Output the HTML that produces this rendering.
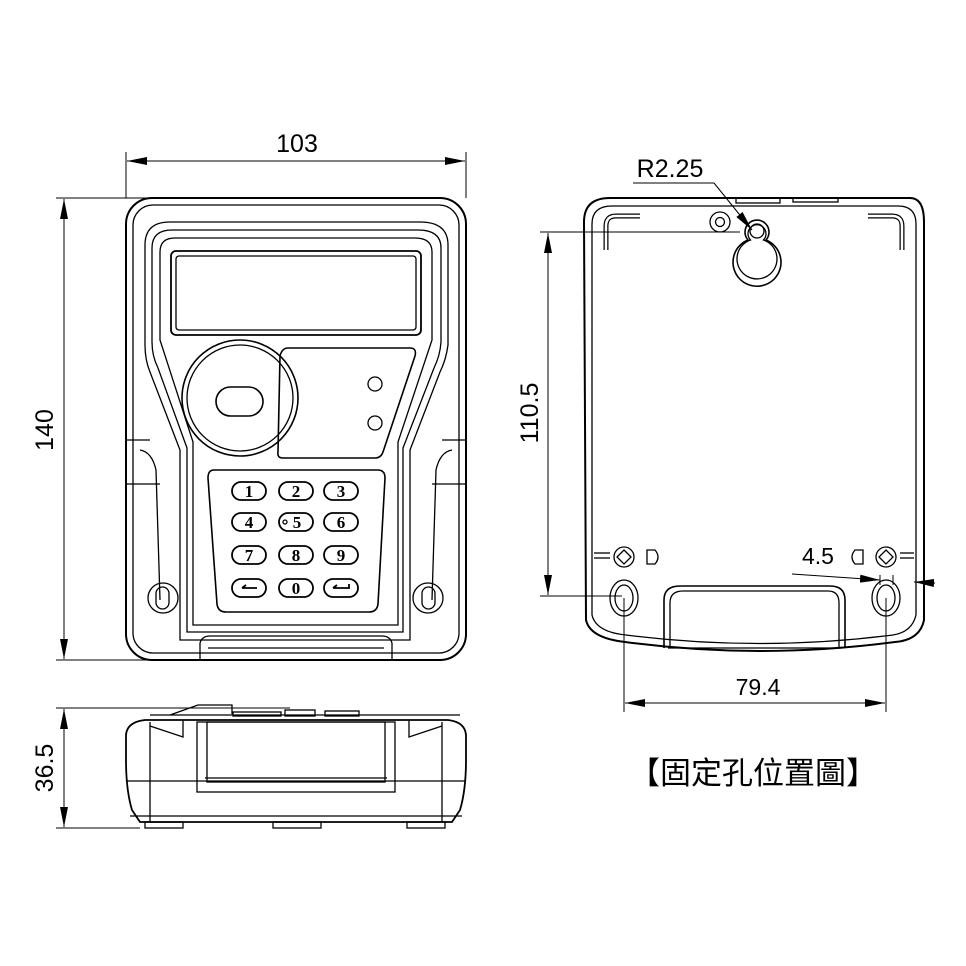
<!DOCTYPE html>
<html><head><meta charset="utf-8"><style>
html,body{margin:0;padding:0;background:#fff;}
svg{display:block;}
text{font-family:"Liberation Sans",sans-serif;fill:#000;}
</style></head><body>
<svg width="966" height="966" viewBox="0 0 966 966" xmlns="http://www.w3.org/2000/svg">
<defs>
<marker id="a" viewBox="0 0 20 8" refX="20" refY="4" markerWidth="20" markerHeight="8" markerUnits="userSpaceOnUse" orient="auto-start-reverse"><path d="M0,0 L20,4 L0,8 z" fill="#000"/></marker>
</defs>
<g fill="none" stroke="#000" stroke-width="1.3">
<line x1="126" y1="152" x2="126" y2="198" stroke-width="1"/>
<line x1="466" y1="152" x2="466" y2="198" stroke-width="1"/>
<line x1="127" y1="161" x2="465" y2="161" stroke-width="1" marker-start="url(#a)" marker-end="url(#a)"/>
<line x1="56" y1="198" x2="160" y2="198" stroke-width="1"/>
<line x1="56" y1="660" x2="200" y2="660" stroke-width="1"/>
<line x1="64" y1="199" x2="64" y2="659" stroke-width="1" marker-start="url(#a)" marker-end="url(#a)"/>

<rect x="126" y="198" width="340" height="462" rx="26" stroke-width="2"/>
<rect x="133" y="205" width="326" height="448" rx="20"/>
<path d="M145,245 Q145,222 170,222 L420,222 Q448,222 448,245 L448,345 Q446,360 440,372 L410,450 L410,640 L180,640 L180,450 L150,372 Q145,360 145,345 Z"/>
<path d="M152,248 Q152,230 172,230 L418,230 Q441,230 441,248 L441,342 Q440,356 434,368 L403,448 L403,632 L187,632 L187,448 L158,368 Q152,356 152,342 Z"/>
<path d="M160,252 Q160,238 175,238 L415,238 Q432,238 432,252 L432,340 L398,442 L398,625 L193,625 L193,442 L160,340 Z"/>
<line x1="126" y1="440" x2="150" y2="440"/><line x1="442" y1="440" x2="466" y2="440"/>
<line x1="126" y1="484" x2="160" y2="484"/><line x1="432" y1="484" x2="466" y2="484"/>
<path d="M140,450 Q152,452 156,470 L160,600"/>
<path d="M452,450 Q440,452 436,470 L432,600"/>
<rect x="171" y="251" width="250" height="84" rx="5" stroke-width="1.8"/>
<rect x="176" y="256" width="240" height="74" rx="3"/>
<circle cx="240" cy="398" r="58" stroke-width="1.6"/>
<circle cx="240" cy="398" r="53"/>
<rect x="216" y="387" width="47" height="29" rx="14.5" stroke-width="1.6"/>
<path d="M288,348 L410,348 Q417,348 415,356 L383,452 Q381,458 375,458 L283,458 Q277,458 278,452 L280,356 Q282,348 288,348 Z" stroke-width="1.6"/>
<circle cx="375" cy="384" r="7"/><circle cx="375" cy="423" r="7"/>
<path d="M214,470 L378,470 Q385,470 385,478 L378,604 Q377,612 369,612 L226,612 Q218,612 217,604 L208,478 Q208,470 214,470 Z" stroke-width="1.6"/>
<g stroke-width="1.8">
<rect x="232" y="482" width="34" height="18" rx="9"/><rect x="279" y="482" width="34" height="18" rx="9"/><rect x="324" y="482" width="34" height="18" rx="9"/>
<rect x="232" y="513" width="34" height="18" rx="9"/><rect x="279" y="513" width="34" height="18" rx="9"/><rect x="324" y="513" width="34" height="18" rx="9"/>
<rect x="232" y="546" width="34" height="18" rx="9"/><rect x="279" y="546" width="34" height="18" rx="9"/><rect x="324" y="546" width="34" height="18" rx="9"/>
<rect x="232" y="579" width="34" height="18" rx="9"/><rect x="279" y="579" width="34" height="18" rx="9"/><rect x="324" y="579" width="34" height="18" rx="9"/>
</g>
<circle cx="285" cy="522" r="2"/>
<path d="M242,588 L257,588 M242,588 l4,-3" stroke-width="1.8"/><path d="M333,588 L349,588 L349,584 M333,588 l4,-3" stroke-width="1.8"/>
<circle cx="163" cy="598" r="15"/><rect x="156" y="587" width="13" height="22" rx="6.5"/>
<circle cx="428" cy="598" r="15"/><rect x="422" y="587" width="13" height="22" rx="6.5"/>
<path d="M200,660 L200,643 Q202,636 210,636 L382,636 Q390,636 392,643 L392,660"/>
<path d="M208,648 L384,648"/>

<line x1="56" y1="708" x2="290" y2="708" stroke-width="1"/>
<line x1="56" y1="828" x2="140" y2="828" stroke-width="1"/>
<line x1="64" y1="709" x2="64" y2="827" stroke-width="1" marker-start="url(#a)" marker-end="url(#a)"/>
<path d="M140,822 L132,810 Q126,790 126,760 L126,735 Q127,722 145,720 L448,720 Q465,722 466,735 L466,760 Q466,790 460,810 L452,822 Z" stroke-width="1.8"/>
<line x1="126" y1="781" x2="466" y2="781"/>
<line x1="130" y1="816" x2="462" y2="816"/>
<line x1="150" y1="722" x2="150" y2="822"/><line x1="442" y1="722" x2="442" y2="822"/>
<rect x="197" y="722" width="198" height="70"/>
<rect x="207" y="722" width="178" height="60"/>
<line x1="205" y1="778" x2="387" y2="778"/>
<path d="M150,726 L183,737 L183,720 M442,726 L409,737 L409,720"/>
<path d="M150,715 L460,715 M170,715 L198,705 L232,705 L232,714"/>
<rect x="233" y="712" width="48" height="4"/><rect x="285" y="710" width="30" height="6"/><rect x="325" y="711" width="34" height="5"/>
<rect x="145" y="822" width="38" height="6"/><rect x="273" y="822" width="48" height="6"/><rect x="407" y="822" width="38" height="6"/>

<path d="M610,198 L910,198 Q924,198 924,222 L924,620 Q920,640 895,642 Q760,660 625,642 Q590,638 586,620 L584,222 Q584,198 610,198 Z" stroke-width="2"/>
<path d="M612,206 L898,206 Q916,206 916,224 L916,615 Q912,632 893,635 Q760,652 626,635 Q596,632 592,615 L592,224 Q592,206 612,206 Z"/>
<rect x="736" y="198" width="44" height="5"/><rect x="793" y="198" width="45" height="4"/>
<path d="M606,250 L606,226 Q606,216 616,216 L640,216" stroke-width="5"/>
<path d="M606,250 L606,226 Q606,216 616,216 L640,216" stroke="#fff" stroke-width="2.5"/>
<path d="M902,250 L902,226 Q902,216 892,216 L868,216" stroke-width="5"/>
<path d="M902,250 L902,226 Q902,216 892,216 L868,216" stroke="#fff" stroke-width="2.5"/>
<circle cx="720" cy="222" r="10"/><circle cx="720" cy="222" r="4.5"/>
<path d="M748,240 A12,12 0 1 1 766,240 A24,24 0 1 1 748,240 Z" stroke-width="1.6"/>
<path d="M750.5,240 A9,9 0 1 1 763.5,240 A20,20 0 1 1 750.5,240 Z"/>
<circle cx="757" cy="231" r="7"/>
<line x1="633" y1="183" x2="714" y2="183" stroke-width="1"/>
<line x1="714" y1="183" x2="752" y2="230" stroke-width="1" marker-end="url(#a)"/>
<line x1="540" y1="232" x2="740" y2="232" stroke-width="1"/>
<line x1="540" y1="596" x2="622" y2="596" stroke-width="1"/>
<line x1="548" y1="233" x2="548" y2="595" stroke-width="1" marker-start="url(#a)" marker-end="url(#a)"/>
<line x1="594" y1="558" x2="610" y2="558"/><line x1="900" y1="558" x2="914" y2="558"/>
<line x1="594" y1="553" x2="610" y2="553"/><line x1="900" y1="553" x2="914" y2="553"/>
<circle cx="624" cy="557" r="10"/><path d="M624,550 L631,557 L624,564 L617,557 Z"/>
<circle cx="886" cy="557" r="10"/><path d="M886,550 L893,557 L886,564 L879,557 Z"/>
<path d="M647,550 L655,550 Q661,557 655,564 L647,564 Z"/>
<path d="M863,550 L855,550 Q849,557 855,564 L863,564 Z"/>
<ellipse cx="624" cy="598" rx="14" ry="18"/><ellipse cx="624" cy="598" rx="9" ry="13"/>
<ellipse cx="886" cy="598" rx="14" ry="18"/><ellipse cx="886" cy="598" rx="9" ry="13"/>
<path d="M664,648 L664,600 Q664,586 680,586 L830,586 Q845,586 845,600 L845,648" stroke-width="1.6"/>
<path d="M670,648 L670,603 Q670,591 683,591 L828,591 Q839,591 839,603 L839,648"/>
<line x1="668" y1="648" x2="842" y2="648"/>
<line x1="792" y1="574" x2="880" y2="580" stroke-width="1" marker-end="url(#a)"/>
<line x1="935" y1="583" x2="914" y2="582" stroke-width="1" marker-end="url(#a)"/>
<line x1="880" y1="575" x2="880" y2="585" stroke-width="1"/><line x1="893" y1="575" x2="893" y2="585" stroke-width="1"/>
<line x1="624" y1="598" x2="624" y2="712" stroke-width="1"/>
<line x1="886" y1="598" x2="886" y2="712" stroke-width="1"/>
<line x1="625" y1="703" x2="885" y2="703" stroke-width="1" marker-start="url(#a)" marker-end="url(#a)"/>
</g>
<g font-size="17" font-weight="bold" text-anchor="middle" style="font-family:'Liberation Serif',serif">
<text x="249" y="497" style="font-family:'Liberation Serif',serif">1</text><text x="296" y="497" style="font-family:'Liberation Serif',serif">2</text><text x="341" y="497" style="font-family:'Liberation Serif',serif">3</text>
<text x="249" y="528" style="font-family:'Liberation Serif',serif">4</text><text x="297" y="528" style="font-family:'Liberation Serif',serif">5</text><text x="341" y="528" style="font-family:'Liberation Serif',serif">6</text>
<text x="249" y="561" style="font-family:'Liberation Serif',serif">7</text><text x="296" y="561" style="font-family:'Liberation Serif',serif">8</text><text x="341" y="561" style="font-family:'Liberation Serif',serif">9</text>
<text x="296" y="594" style="font-family:'Liberation Serif',serif">0</text>
</g>
<g font-size="25">
<text x="297" y="152" text-anchor="middle">103</text>
<text x="0" y="0" text-anchor="middle" transform="translate(53,430) rotate(-90)">140</text>
<text x="0" y="0" text-anchor="middle" transform="translate(53,768) rotate(-90)">36.5</text>
<text x="0" y="0" text-anchor="middle" transform="translate(538,413) rotate(-90)">110.5</text>
<text x="670" y="177" text-anchor="middle">R2.25</text>
<text x="758" y="695" text-anchor="middle" font-size="23">79.4</text>
<text x="818" y="564" text-anchor="middle" font-size="23">4.5</text>
</g>
<text x="753" y="784" text-anchor="middle" font-size="31" style="font-family:'Liberation Sans','Noto Sans CJK TC',sans-serif">【固定孔位置圖】</text>
</svg>
</body></html>
